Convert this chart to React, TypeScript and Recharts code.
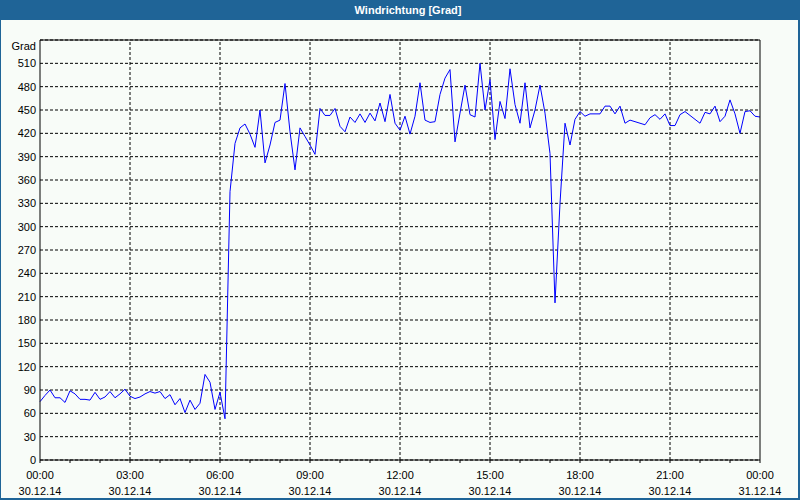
import React from 'react';
import { LineChart, Line, XAxis, YAxis, CartesianGrid, ReferenceLine } from 'recharts';

// wind direction in degrees, one reading every 10 minutes (00:00 .. 24:00)
const directions = [
  75, 83, 90, 80, 80, 74, 89, 85, 78, 78, 77, 87, 78, 81, 88, 80, 85, 91,
  82, 79, 81, 85, 88, 86, 88, 79, 84, 71, 79, 61, 77, 65, 73, 110, 100, 65,
  87, 53, 345, 407, 427, 432, 419, 402, 450, 382, 405, 434, 437, 484, 422, 373,
  427, 416, 405, 393, 452, 443, 443, 452, 429, 422, 441, 434, 445, 434, 446, 436,
  459, 435, 470, 433, 424, 442, 419, 442, 485, 437, 434, 435, 470, 491, 502, 409,
  446, 482, 444, 441, 510, 450, 489, 412, 461, 439, 503, 457, 433, 485, 427, 450,
  482, 446, 394, 202, 330, 433, 405, 438, 448, 442, 445, 445, 445, 455, 455, 445,
  455, 433, 437, 435, 433, 431, 440, 444, 438, 445, 430, 430, 444, 448, 443, 438,
  433, 447, 445, 455, 435, 442, 463, 445, 420, 448, 449, 442, 441,
];

const timeLabels = ['00:00', '03:00', '06:00', '09:00', '12:00', '15:00', '18:00', '21:00', '00:00'];
const dateLabels = ['30.12.14', '30.12.14', '30.12.14', '30.12.14', '30.12.14', '30.12.14', '30.12.14', '30.12.14', '31.12.14'];
const gradTicks = [0, 30, 60, 90, 120, 150, 180, 210, 240, 270, 300, 330, 360, 390, 420, 450, 480, 510, 540];
const compassTicks = [0, 45, 90, 135, 180, 225, 270, 315, 360, 405, 450, 495, 540];
const compassLabels = ['N', 'NE', 'E', 'SE', 'S', 'SW', 'W', 'NW', 'N', 'NE', 'E', 'SE', 'S'];

const data = directions.map((v, i) => ({ t: i * 10, dir: v }));
const hourTicks = Array.from({ length: 25 }, (_, i) => i * 60);
const gridX = timeLabels.slice(1, -1).map((_, i) => (i + 1) * 180);

const FONT = 'Liberation Sans, Arial, sans-serif';
const DASH = '3 2';

const TimeTick = (props: any) => {
  const { x, y, payload } = props;
  if (payload.value % 180 !== 0) return <g />;
  const k = payload.value / 180;
  return (
    <g>
      <text x={x} y={y + 14} textAnchor="middle" fontSize={11} fontFamily={FONT} fill="#000">{timeLabels[k]}</text>
      <text x={x} y={y + 30} textAnchor="middle" fontSize={11} fontFamily={FONT} fill="#000">{dateLabels[k]}</text>
    </g>
  );
};

const GradTick = (props: any) => {
  const { x, y, payload } = props;
  const isTop = payload.value === 540;
  return (
    <text x={x} y={y + (isTop ? 6 : 0)} dy="0.355em" textAnchor="end" fontSize={11} fontFamily={FONT} fill="#000">
      {isTop ? 'Grad' : payload.value}
    </text>
  );
};

const CompassTick = (props: any) => {
  const { x, y, payload } = props;
  const idx = compassTicks.indexOf(payload.value);
  return (
    <text x={x} y={y + 2} dy="0.355em" textAnchor="start" fontSize={11} fontFamily={FONT} fill="#000">
      {compassLabels[idx]}
    </text>
  );
};

export default function App() {
  return (
    <div style={{ position: 'absolute', left: 0, top: 0, width: 800, height: 500, background: '#1f6497' }}>
      <div style={{ position: 'absolute', left: 1, top: 20, width: 797, height: 478, background: '#f8fcf8' }} />
      <div
        style={{
          position: 'absolute', left: 8, top: 0, width: 800, height: 20, lineHeight: '20px',
          textAlign: 'center', color: '#fff', fontWeight: 'bold', fontSize: 11, fontFamily: FONT,
        }}
      >
        Windrichtung [Grad]
      </div>
      <div style={{ position: 'absolute', left: 0, top: 0 }}>
        <LineChart width={800} height={500} data={data} margin={{ top: 40, right: 0, bottom: 0, left: 0 }}>
          <CartesianGrid yAxisId="left" vertical={false} stroke="#000" strokeDasharray={DASH} />
          {gridX.map((gx) => (
            <ReferenceLine key={gx} yAxisId="left" x={gx} stroke="#000" strokeDasharray={DASH} />
          ))}
          <ReferenceLine yAxisId="left" y={540} stroke="#000" />
          <XAxis
            dataKey="t"
            type="number"
            domain={[0, 1440]}
            ticks={hourTicks}
            interval={0}
            height={40}
            tickSize={3}
            stroke="#000"
            tick={<TimeTick />}
          />
          <YAxis
            yAxisId="left"
            domain={[0, 540]}
            ticks={gradTicks}
            interval={0}
            width={40}
            tickLine={false}
            tickSize={0}
            tickMargin={4}
            stroke="#000"
            tick={<GradTick />}
          />
          <YAxis
            yAxisId="right"
            orientation="right"
            domain={[0, 540]}
            ticks={compassTicks}
            interval={0}
            width={40}
            tickSize={2}
            tickMargin={3}
            stroke="#000"
            tick={<CompassTick />}
          />
          <Line
            yAxisId="left"
            type="linear"
            dataKey="dir"
            stroke="#0000ff"
            strokeWidth={1}
            dot={false}
            isAnimationActive={false}
          />
        </LineChart>
      </div>
    </div>
  );
}
